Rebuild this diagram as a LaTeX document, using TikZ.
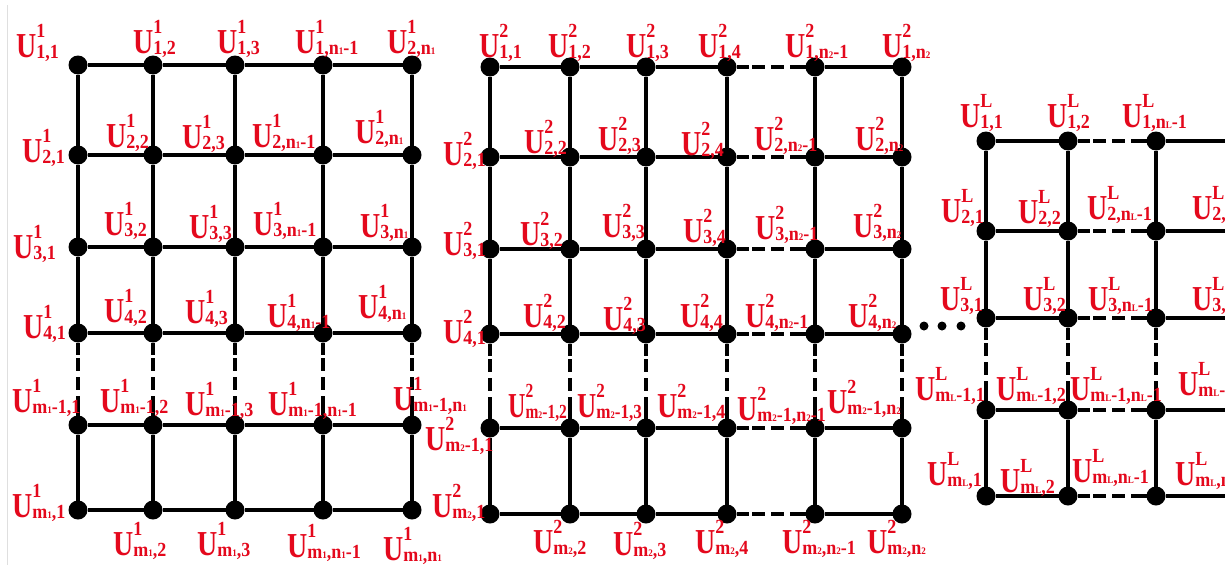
\documentclass[tikz,border=0pt]{standalone}
\usepackage{fontspec}
\setmainfont{Liberation Serif}
\newfontfamily\Ufont{Liberation Serif}[FakeStretch=0.8]
\newfontfamily\Sfam{Liberation Serif}[FakeStretch=0.9]
\usetikzlibrary{calc}
\definecolor{labred}{RGB}{228,8,28}
\newcommand\tn[1]{{\fontsize{10}{10}\selectfont #1}}
\newcommand\Sf{\Sfam\bfseries\fontsize{20}{20}\selectfont}
\newcommand\Ul[2]{{\Ufont\bfseries\fontsize{35}{35}\selectfont U}\rlap{\raisebox{20pt}{\Sf #1}}\raisebox{-1pt}{\Sf #2}}
\newcommand\dline[2]{%
  \draw[gridline] (#1) -- ($(#1)!22pt!(#2)$);
  \draw[gridline,dashmid] ($(#1)!22pt!(#2)$) -- ($(#2)!22pt!(#1)$);
  \draw[gridline] ($(#2)!22pt!(#1)$) -- (#2);}
\tikzset{
  gridline/.style={line width=4.6pt},
  dashmid/.style={dash pattern=on 13pt off 6pt, dash phase=16pt},
  dot/.style={circle, fill=black, minimum size=19pt, inner sep=0pt, outer sep=0pt},
  edot/.style={circle, fill=black, minimum size=9pt, inner sep=0pt},
  lab/.style={anchor=base west, inner sep=0pt, text=labred, font=\bfseries},
}
\begin{document}
\begin{tikzpicture}[x=1pt,y=-1pt]
\useasboundingbox (0,0) rectangle (1225,565);
\begin{scope}
\clip (0,0) rectangle (1225,565);
\fill[white] (0,0) rectangle (1225,565);
\draw[gray!25, line width=1pt] (7,5) -- (7,565);

% ---------- grid 1 ----------
\foreach \y [count=\r] in {65,155,247,333,425,510} {
  \foreach \x [count=\c] in {78,153,235,323,412} {
    \node[dot] (g1-\r-\c) at (\x,\y) {};
  }
}
\foreach \r in {1,...,6} {
  \foreach \c/\d in {1/2,2/3,3/4,4/5} { \draw[gridline] (g1-\r-\c) -- (g1-\r-\d); }
}
\foreach \c in {1,...,5} {
  \foreach \r/\s in {1/2,2/3,3/4,5/6} { \draw[gridline] (g1-\r-\c) -- (g1-\s-\c); }
  \dline{g1-4-\c}{g1-5-\c}
}

% ---------- grid 2 ----------
\foreach \y [count=\r] in {67,157,249,334,428,514} {
  \foreach \x [count=\c] in {490,570,646,727,815,902} {
    \node[dot] (g2-\r-\c) at (\x,\y) {};
  }
}
\foreach \r in {1,...,6} {
  \foreach \c/\d in {1/2,2/3,3/4,5/6} { \draw[gridline] (g2-\r-\c) -- (g2-\r-\d); }
  \dline{g2-\r-4}{g2-\r-5}
}
\foreach \c in {1,...,6} {
  \foreach \r/\s in {1/2,2/3,3/4,5/6} { \draw[gridline] (g2-\r-\c) -- (g2-\s-\c); }
  \dline{g2-4-\c}{g2-5-\c}
}

% ---------- grid 3 ----------
\foreach \y [count=\r] in {141,231,318,410,496} {
  \foreach \x [count=\c] in {986,1068,1156,1250} {
    \node[dot] (g3-\r-\c) at (\x,\y) {};
  }
}
\foreach \r in {1,...,5} {
  \foreach \c/\d in {1/2,3/4} { \draw[gridline] (g3-\r-\c) -- (g3-\r-\d); }
  \dline{g3-\r-2}{g3-\r-3}
}
\foreach \c in {1,...,4} {
  \foreach \r/\s in {1/2,2/3,4/5} { \draw[gridline] (g3-\r-\c) -- (g3-\s-\c); }
  \dline{g3-3-\c}{g3-4-\c}
}

% ellipsis
\node[edot] (e1) at (924,326) {};
\node[edot] (e2) at (942,326) {};
\node[edot] (e3) at (961,326) {};

% ---------- labels grid 1 ----------
\node[lab] (a11) at (16,57) {\Ul{1}{1,1}};
\node[lab] (a12) at (133,53) {\Ul{1}{1,2}};
\node[lab] (a13) at (217,53) {\Ul{1}{1,3}};
\node[lab] (a14) at (295,53) {\Ul{1}{1,n\tn1-1}};
\node[lab] (a15) at (387,53) {\Ul{1}{2,n\tn1}};
\node[lab] (a21) at (22,162) {\Ul{1}{2,1}};
\node[lab] (a22) at (106,147) {\Ul{1}{2,2}};
\node[lab] (a23) at (182,148) {\Ul{1}{2,3}};
\node[lab] (a24) at (252,147) {\Ul{1}{2,n\tn1-1}};
\node[lab] (a25) at (355,143) {\Ul{1}{2,n\tn1}};
\node[lab] (a31) at (13,258) {\Ul{1}{3,1}};
\node[lab] (a32) at (104,235) {\Ul{1}{3,2}};
\node[lab] (a33) at (189,238) {\Ul{1}{3,3}};
\node[lab] (a34) at (253,235) {\Ul{1}{3,n\tn1-1}};
\node[lab] (a35) at (360,237) {\Ul{1}{3,n\tn1}};
\node[lab] (a41) at (23,338) {\Ul{1}{4,1}};
\node[lab] (a42) at (104,322) {\Ul{1}{4,2}};
\node[lab] (a43) at (185,323) {\Ul{1}{4,3}};
\node[lab] (a44) at (267,327) {\Ul{1}{4,n\tn1-1}};
\node[lab] (a45) at (358,318) {\Ul{1}{4,n\tn1}};
\node[lab] (a51) at (12,412) {\Ul{1}{m\tn1-1,1}};
\node[lab] (a52) at (100,412) {\Ul{1}{m\tn1-1,2}};
\node[lab] (a53) at (185,415) {\Ul{1}{m\tn1-1,3}};
\node[lab] (a54) at (268,415) {\Ul{1}{m\tn1-1,n\tn1-1}};
\node[lab] (a55) at (393,410) {\Ul{1}{m\tn1-1,n\tn1}};
\node[lab] (a61) at (12,517) {\Ul{1}{m\tn1,1}};
\node[lab] (a62) at (113,555) {\Ul{1}{m\tn1,2}};
\node[lab] (a63) at (197,555) {\Ul{1}{m\tn1,3}};
\node[lab] (a64) at (287,557) {\Ul{1}{m\tn1,n\tn1-1}};
\node[lab] (a65) at (383,560) {\Ul{1}{m\tn1,n\tn1}};

% ---------- labels grid 2 ----------
\node[lab] (b11) at (479,57) {\Ul{2}{1,1}};
\node[lab] (b12) at (548,57) {\Ul{2}{1,2}};
\node[lab] (b13) at (626,57) {\Ul{2}{1,3}};
\node[lab] (b14) at (698,57) {\Ul{2}{1,4}};
\node[lab] (b15) at (785,57) {\Ul{2}{1,n\tn2-1}};
\node[lab] (b16) at (882,57) {\Ul{2}{1,n\tn2}};
\node[lab] (b21) at (443,165) {\Ul{2}{2,1}};
\node[lab] (b22) at (524,153) {\Ul{2}{2,2}};
\node[lab] (b23) at (598,150) {\Ul{2}{2,3}};
\node[lab] (b24) at (681,155) {\Ul{2}{2,4}};
\node[lab] (b25) at (754,150) {\Ul{2}{2,n\tn2-1}};
\node[lab] (b26) at (855,150) {\Ul{2}{2,n\tn2}};
\node[lab] (b31) at (443,255) {\Ul{2}{3,1}};
\node[lab] (b32) at (520,245) {\Ul{2}{3,2}};
\node[lab] (b33) at (602,237) {\Ul{2}{3,3}};
\node[lab] (b34) at (683,242) {\Ul{2}{3,4}};
\node[lab] (b35) at (755,239) {\Ul{2}{3,n\tn2-1}};
\node[lab] (b36) at (853,237) {\Ul{2}{3,n\tn2}};
\node[lab] (b41) at (443,343) {\Ul{2}{4,1}};
\node[lab] (b42) at (523,327) {\Ul{2}{4,2}};
\node[lab] (b43) at (603,330) {\Ul{2}{4,3}};
\node[lab] (b44) at (680,327) {\Ul{2}{4,4}};
\node[lab] (b45) at (745,327) {\Ul{2}{4,n\tn2-1}};
\node[lab] (b46) at (848,327) {\Ul{2}{4,n\tn2}};
\node[lab] (b51) at (425,450) {\Ul{2}{m\tn2-1,1}};
\node[lab] (b52) at (508,417) {\scalebox{0.86}[1]{\Ul{2}{m\tn2-1,2}}};
\node[lab] (b53) at (577,417) {\scalebox{0.95}[1]{\Ul{2}{m\tn2-1,3}}};
\node[lab] (b54) at (657,417) {\Ul{2}{m\tn2-1,4}};
\node[lab] (b55) at (737,420) {\Ul{2}{m\tn2-1,n\tn2-1}};
\node[lab] (b56) at (827,413) {\Ul{2}{m\tn2-1,n\tn2}};
\node[lab] (b61) at (432,517) {\Ul{2}{m\tn2,1}};
\node[lab] (b62) at (533,553) {\Ul{2}{m\tn2,2}};
\node[lab] (b63) at (613,555) {\Ul{2}{m\tn2,3}};
\node[lab] (b64) at (695,553) {\Ul{2}{m\tn2,4}};
\node[lab] (b65) at (782,553) {\Ul{2}{m\tn2,n\tn2-1}};
\node[lab] (b66) at (867,553) {\Ul{2}{m\tn2,n\tn2}};

% ---------- labels grid 3 ----------
\node[lab] (c11) at (960,127) {\Ul{L}{1,1}};
\node[lab] (c12) at (1047,127) {\Ul{L}{1,2}};
\node[lab] (c13) at (1122,127) {\Ul{L}{1,n\tn{L}-1}};
\node[lab] (c21) at (941,222) {\Ul{L}{2,1}};
\node[lab] (c22) at (1018,223) {\Ul{L}{2,2}};
\node[lab] (c23) at (1087,219) {\Ul{L}{2,n\tn{L}-1}};
\node[lab] (c24) at (1192,219) {\Ul{L}{2,n\tn{L}}};
\node[lab] (c31) at (940,310) {\Ul{L}{3,1}};
\node[lab] (c32) at (1023,310) {\Ul{L}{3,2}};
\node[lab] (c33) at (1088,310) {\Ul{L}{3,n\tn{L}-1}};
\node[lab] (c34) at (1192,310) {\Ul{L}{3,n\tn{L}}};
\node[lab] (c41) at (915,400) {\Ul{L}{m\tn{L}-1,1}};
\node[lab] (c42) at (996,400) {\Ul{L}{m\tn{L}-1,2}};
\node[lab] (c43) at (1070,400) {\Ul{L}{m\tn{L}-1,n\tn{L}-1}};
\node[lab] (c44) at (1178,395) {\Ul{L}{m\tn{L}-1,n\tn{L}}};
\node[lab] (c51) at (927,485) {\Ul{L}{m\tn{L},1}};
\node[lab] (c52) at (1000,492) {\Ul{L}{m\tn{L},2}};
\node[lab] (c53) at (1072,482) {\Ul{L}{m\tn{L},n\tn{L}-1}};
\node[lab] (c54) at (1175,485) {\Ul{L}{m\tn{L},n\tn{L}}};
\end{scope}
\end{tikzpicture}
\end{document}
